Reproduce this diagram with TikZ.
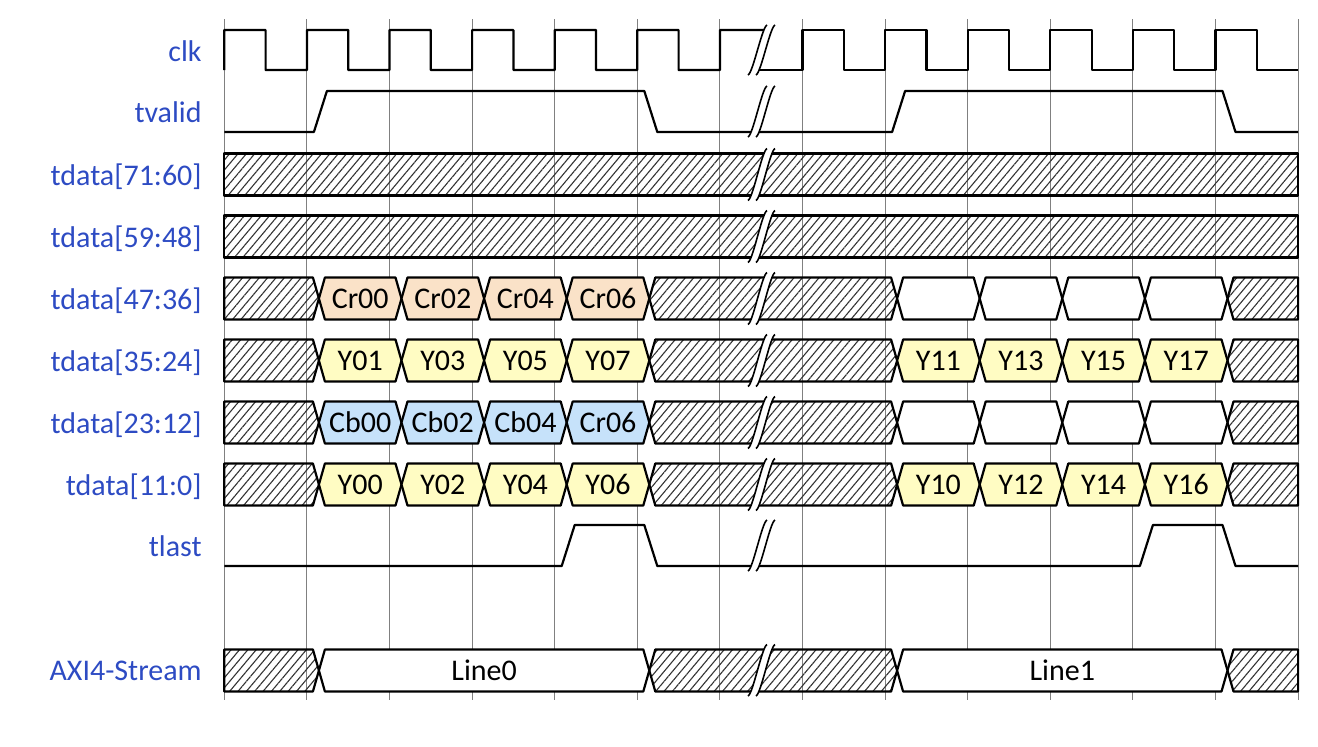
\documentclass[tikz,border=0pt]{standalone}
\usepackage{fontspec}
\setmainfont{Carlito}
\usepackage{xcolor}
\usepackage{tikz}
\usetikzlibrary{patterns.meta}
\definecolor{signame}{RGB}{45,75,195}
\definecolor{crfill}{RGB}{250,226,200}
\definecolor{yfill}{RGB}{255,252,195}
\definecolor{cbfill}{RGB}{198,226,250}

\begin{document}
\begin{tikzpicture}[
  x=0.5pt,y=-0.5pt,
  font=\fontsize{15}{18}\selectfont,
  gridline/.style={black!50,line width=0.5pt},
  wave/.style={line width=1.1pt,line join=round},
  signame/.style={anchor=base east,inner sep=0pt,text=signame},
  celltext/.style={anchor=base,inner sep=0pt},
  databox/.style={draw,line width=1.1pt,line join=round},
  hatchbox/.style={databox,pattern={Lines[angle=50,distance=3.2pt,line width=0.55pt]},pattern color=black!80},
  brk/.style={line width=0.8pt}
]
\useasboundingbox (0,0) rectangle (1318,746);

\foreach \k in {0,...,13}
  \draw[gridline] ({224.3+82.6*\k},19) -- ({224.3+82.6*\k},700);

\node[signame] (clk) at (202,61) {clk};
\node[signame] (tvalid) at (202,122) {tvalid};
\node[signame] (d7160) at (202,185) {tdata[71:60]};
\node[signame] (d5948) at (202,247) {tdata[59:48]};
\node[signame] (d4736) at (202,309) {tdata[47:36]};
\node[signame] (d3524) at (202,371) {tdata[35:24]};
\node[signame] (d2312) at (202,433) {tdata[23:12]};
\node[signame] (d1100) at (202,495) {tdata[11:0]};
\node[signame] (tlast) at (202,556) {tlast};
\node[signame] (axis) at (202,680) {AXI4-Stream};

\draw[hatchbox] (224.3,153.5) rectangle (1298.1,195.5);
\draw[hatchbox] (224.3,215.5) rectangle (1298.1,257.5);
\foreach \yt in {277.5,339.5,401.5,463.5,649.5} {
  \draw[hatchbox] (224.3,\yt) -- (312.9,\yt) -- (318.9,\yt+21) -- (312.9,\yt+42) -- (224.3,\yt+42) -- cycle;
  \draw[hatchbox] (649.3,\yt+21) -- (655.3,\yt) -- (891.1,\yt) -- (897.1,\yt+21) -- (891.1,\yt+42) -- (655.3,\yt+42) -- cycle;
  \draw[hatchbox] (1227.5,\yt+21) -- (1233.5,\yt) -- (1298.1,\yt) -- (1298.1,\yt+42) -- (1233.5,\yt+42) -- cycle;
}
\foreach \a/\yt in {8/277.5,9/277.5,10/277.5,11/277.5,8/401.5,9/401.5,10/401.5,11/401.5}
  \draw[databox,fill=white] ({236.3+82.6*\a},\yt+21) -- ({242.3+82.6*\a},\yt) -- ({312.9+82.6*\a},\yt) -- ({318.9+82.6*\a},\yt+21) -- ({312.9+82.6*\a},\yt+42) -- ({242.3+82.6*\a},\yt+42) -- cycle;
\foreach \a/\b/\yt/\fc/\txt/\nm in {
    1/2/277.5/crfill/Cr00/cr00, 2/3/277.5/crfill/Cr02/cr02, 3/4/277.5/crfill/Cr04/cr04, 4/5/277.5/crfill/Cr06/cr06,
    1/2/339.5/yfill/Y01/y01, 2/3/339.5/yfill/Y03/y03, 3/4/339.5/yfill/Y05/y05, 4/5/339.5/yfill/Y07/y07,
    8/9/339.5/yfill/Y11/y11, 9/10/339.5/yfill/Y13/y13, 10/11/339.5/yfill/Y15/y15, 11/12/339.5/yfill/Y17/y17,
    1/2/401.5/cbfill/Cb00/cb00, 2/3/401.5/cbfill/Cb02/cb02, 3/4/401.5/cbfill/Cb04/cb04, 4/5/401.5/cbfill/Cr06/cbcr06,
    1/2/463.5/yfill/Y00/y00, 2/3/463.5/yfill/Y02/y02, 3/4/463.5/yfill/Y04/y04, 4/5/463.5/yfill/Y06/y06,
    8/9/463.5/yfill/Y10/y10, 9/10/463.5/yfill/Y12/y12, 10/11/463.5/yfill/Y14/y14, 11/12/463.5/yfill/Y16/y16,
    1/5/649.5/white/Line0/line0, 8/12/649.5/white/Line1/line1} {
  \draw[databox,fill=\fc] ({236.3+82.6*\a},\yt+21) -- ({242.3+82.6*\a},\yt) -- ({230.3+82.6*\b},\yt) -- ({236.3+82.6*\b},\yt+21) -- ({230.3+82.6*\b},\yt+42) -- ({242.3+82.6*\a},\yt+42) -- cycle;
  \node[celltext] (\nm) at ({236.3+41.3*(\a+\b)},\yt+30.5) {\txt};
}

\draw[wave] (224.3,70) \foreach \k in {0,...,5} { -- ({224.3+82.6*\k},30) -- ({265.6+82.6*\k},30) -- ({265.6+82.6*\k},70) -- ({306.9+82.6*\k},70) } -- (719.9,30) -- (767,30);
\draw[wave] (756,70) \foreach \k in {7,...,12} { -- ({224.3+82.6*\k},70) -- ({224.3+82.6*\k},30) -- ({265.6+82.6*\k},30) -- ({265.6+82.6*\k},70) } -- (1298.1,70);
\draw[wave] (224.3,132) -- (313.9,132) -- (326.9,91) -- (644.3,91) -- (657.3,132) -- (892.1,132) -- (905.1,91) -- (1222.5,91) -- (1235.5,132) -- (1298.1,132);
\draw[wave] (224.3,566) -- (561.7,566) -- (574.7,525) -- (644.3,525) -- (657.3,566) -- (1139.9,566) -- (1152.9,525) -- (1222.5,525) -- (1235.5,566) -- (1298.1,566);

\foreach \yt/\yb in {30/70,91/132,153.5/195.5,215.5/257.5,277.5/319.5,339.5/381.5,401.5/443.5,463.5/505.5,525/566,649.5/691} {
  \fill[white] (748,\yb+5) .. controls (753,\yb+3) and (762,\yt-3) .. (767,\yt-5) -- (775,\yt-5) .. controls (770,\yt-3) and (761,\yb+3) .. (756,\yb+5) -- cycle;
  \draw[brk] (748,\yb+5) .. controls (753,\yb+3) and (762,\yt-3) .. (767,\yt-5);
  \draw[brk] (756,\yb+5) .. controls (761,\yb+3) and (770,\yt-3) .. (775,\yt-5);
}
\end{tikzpicture}
\end{document}
